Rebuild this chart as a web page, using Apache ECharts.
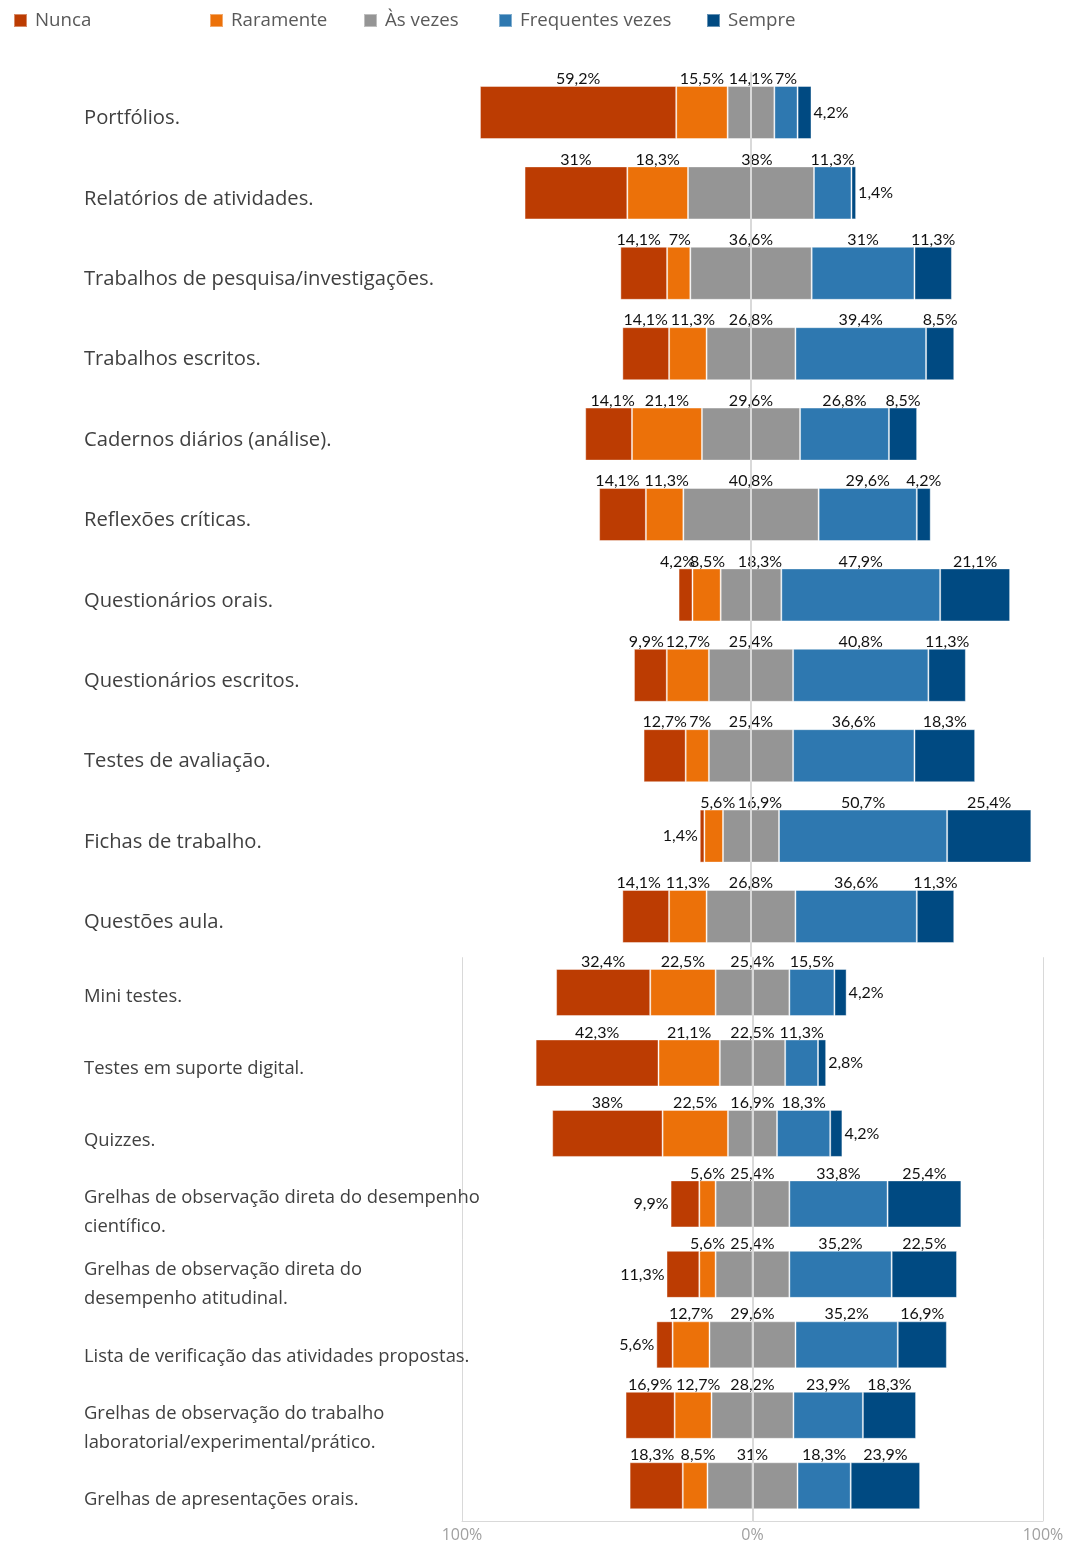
<!DOCTYPE html>
<html>
<head>
<meta charset="utf-8">
<script src="https://cdn.jsdelivr.net/npm/echarts@6/dist/echarts.min.js"></script>
<style>
  html, body { margin: 0; padding: 0; background: #ffffff; }
  #chart { width: 1080px; height: 1543px; }
</style>
</head>
<body>
<div id="chart"></div>
<script>
// Response levels and their colours
const levels = ['Nunca', 'Raramente', 'Às vezes', 'Frequentes vezes', 'Sempre'];
const levelColors = ['#BC3C02', '#EC7109', '#959595', '#2E78B0', '#004A82'];

// Block A: assessment instruments (percent of answers)
const catsA = [
  'Portfólios.',
  'Relatórios de atividades.',
  'Trabalhos de pesquisa/investigações.',
  'Trabalhos escritos.',
  'Cadernos diários (análise).',
  'Reflexões críticas.',
  'Questionários orais.',
  'Questionários escritos.',
  'Testes de avaliação.',
  'Fichas de trabalho.',
  'Questões aula.'
];
const nuncaA     = [59.2, 31,   14.1, 14.1, 14.1, 14.1, 4.2,  9.9,  12.7, 1.4,  14.1];
const raramenteA = [15.5, 18.3, 7,    11.3, 21.1, 11.3, 8.5,  12.7, 7,    5.6,  11.3];
const asVezesA   = [14.1, 38,   36.6, 26.8, 29.6, 40.8, 18.3, 25.4, 25.4, 16.9, 26.8];
const frequentesA= [7,    11.3, 31,   39.4, 26.8, 29.6, 47.9, 40.8, 36.6, 50.7, 36.6];
const sempreA    = [4.2,  1.4,  11.3, 8.5,  8.5,  4.2,  21.1, 11.3, 18.3, 25.4, 11.3];

// Block B: further instruments (percent of answers)
const catsB = [
  'Mini testes.',
  'Testes em suporte digital.',
  'Quizzes.',
  'Grelhas de observação direta do desempenho\ncientífico.',
  'Grelhas de observação direta do\ndesempenho atitudinal.',
  'Lista de verificação das atividades propostas.',
  'Grelhas de observação do trabalho\nlaboratorial/experimental/prático.',
  'Grelhas de apresentações orais.'
];
const nuncaB     = [32.4, 42.3, 38,   9.9,  11.3, 5.6,  16.9, 18.3];
const raramenteB = [22.5, 21.1, 22.5, 5.6,  5.6,  12.7, 12.7, 8.5];
const asVezesB   = [25.4, 22.5, 16.9, 25.4, 25.4, 29.6, 28.2, 31];
const frequentesB= [15.5, 11.3, 18.3, 33.8, 35.2, 35.2, 23.9, 18.3];
const sempreB    = [4.2,  2.8,  4.2,  25.4, 22.5, 16.9, 18.3, 23.9];

// Bottom axis ticks
const axisTicks = [-100, 0, 100];
const axisTickLabels = ['100%', '0%', '100%'];

// Small segments whose value label sits beside the bar instead of above it
const sideLabels = {
  'Portfólios.': { 4: 'right' },
  'Relatórios de atividades.': { 4: 'right' },
  'Fichas de trabalho.': { 0: 'left' },
  'Mini testes.': { 4: 'right' },
  'Testes em suporte digital.': { 4: 'right' },
  'Quizzes.': { 4: 'right' },
  'Grelhas de observação direta do desempenho\ncientífico.': { 0: 'left' },
  'Grelhas de observação direta do\ndesempenho atitudinal.': { 0: 'left' },
  'Lista de verificação das atividades propostas.': { 0: 'left' }
};

// Horizontal nudges (px) that keep neighbouring value labels apart
const labelNudge = {
  'Relatórios de atividades.': { 2: 6 },
  'Trabalhos de pesquisa/investigações.': { 0: -5, 1: 1 },
  'Trabalhos escritos.': { 1: 5 },
  'Cadernos diários (análise).': { 0: 4 },
  'Reflexões críticas.': { 0: -5, 1: 2 },
  'Questionários orais.': { 0: -8, 1: 1, 2: 9 },
  'Questionários escritos.': { 0: -4 },
  'Testes de avaliação.': { 1: 3 },
  'Fichas de trabalho.': { 1: 4, 2: 9 },
  'Questões aula.': { 0: -7 },
  'Grelhas de observação do trabalho\nlaboratorial/experimental/prático.': { 1: 5 },
  'Grelhas de apresentações orais.': { 0: -4, 1: 3 }
};

const legendLeft = [13, 209, 363, 498, 706];

const fmt = v => String(v).replace('.', ',') + '%';

const labelFont = { fontFamily: 'Lato', fontSize: 16, color: '#111111' };

function buildSeries(gridIndex, cats, vals) {
  const stack = 'div' + gridIndex;
  const common = {
    type: 'bar',
    stack: stack,
    xAxisIndex: gridIndex,
    yAxisIndex: gridIndex,
    barWidth: gridIndex === 0 ? 53 : 47,
    animation: false,
    itemStyle: { borderColor: 'rgba(255,255,255,0.4)', borderWidth: 1 }
  };
  // stacking order: neutral half first so each stack grows outwards from 0
  const order = [
    { lvl: 2, sign: -1, half: true, label: false },
    { lvl: 1, sign: -1 },
    { lvl: 0, sign: -1 },
    { lvl: 2, sign: 1, half: true, label: true, centre: true },
    { lvl: 3, sign: 1 },
    { lvl: 4, sign: 1 }
  ];
  return order.map((o, k) => {
    const raw = vals[o.lvl];
    const data = raw.map((v, i) => {
      const item = { value: o.sign * (o.half ? v / 2 : v) };
      if (o.label === false) return item;
      const side = sideLabels[cats[i]] && sideLabels[cats[i]][o.lvl];
      const dx = labelNudge[cats[i]] && labelNudge[cats[i]][o.lvl];
      if (side) {
        item.label = { position: side, distance: 2 };
      } else if (dx) {
        item.label = { offset: [dx, 0] };
      }
      return item;
    });
    const s = Object.assign({}, common, {
      name: levels[o.lvl],
      data: data,
      itemStyle: Object.assign({}, common.itemStyle, { color: levelColors[o.lvl] }),
      label: o.label === false ? { show: false } : Object.assign({
        show: true,
        position: o.centre ? [0, 1] : 'top',
        align: o.centre ? 'center' : undefined,
        verticalAlign: o.centre ? 'bottom' : undefined,
        distance: -1,
        formatter: p => fmt(raw[p.dataIndex])
      }, labelFont)
    });
    if (k === order.length - 1) {
      s.markLine = {
        silent: true,
        symbol: 'none',
        animation: false,
        label: { show: false },
        lineStyle: { color: '#d9d9d9', width: 2, type: 'solid' },
        data: [{ xAxis: 0 }]
      };
    }
    return s;
  });
}

const chart = echarts.init(document.getElementById('chart'), null, { renderer: 'canvas' });

const option = {
  backgroundColor: '#ffffff',
  animation: false,
  legend: levels.map((name, i) => ({
    data: [name],
    left: legendLeft[i],
    top: 11,
    padding: 0,
    icon: 'rect',
    itemWidth: 13,
    itemHeight: 13,
    selectedMode: false,
    textStyle: { fontFamily: 'Open Sans', fontSize: 18.7, color: '#595959', padding: [0, 0, 0, 3] }
  })),
  grid: [
    { left: 452.6, right: 30.6, top: 72.3, height: 884.4 },
    { left: 462, right: 37, top: 957.25, height: 564 },
    { left: 452.6, right: 30.6, top: 78.3, height: 884.4 },
    { left: 462, right: 37, top: 961.1, height: 574.9 }
  ],
  xAxis: [
    { gridIndex: 0, type: 'value', min: -90, max: 90, show: false },
    {
      gridIndex: 1, type: 'value', min: -100, max: 100, interval: 100,
      axisLine: { show: true, lineStyle: { color: '#d9d9d9', width: 1 } },
      axisTick: { show: false },
      splitLine: { show: true, lineStyle: { color: '#d9d9d9', width: 1 } },
      axisLabel: {
        margin: 6,
        fontFamily: 'Open Sans', fontSize: 16, color: '#a0a0a0',
        formatter: v => axisTickLabels[axisTicks.indexOf(v)]
      }
    },
    { gridIndex: 2, type: 'value', min: -90, max: 90, show: false },
    { gridIndex: 3, type: 'value', min: -100, max: 100, show: false }
  ],
  yAxis: [
    {
      gridIndex: 0, type: 'category', data: catsA, inverse: true,
      axisLine: { show: false }, axisTick: { show: false }, axisLabel: { show: false }
    },
    {
      gridIndex: 1, type: 'category', data: catsB, inverse: true,
      axisLine: { show: false }, axisTick: { show: false }, axisLabel: { show: false }
    },
    {
      gridIndex: 2, type: 'category', data: catsA, inverse: true,
      axisLine: { show: false }, axisTick: { show: false },
      axisLabel: {
        align: 'left', margin: 368.6,
        fontFamily: 'Open Sans', fontSize: 20.2, color: '#404040'
      }
    },
    {
      gridIndex: 3, type: 'category', data: catsB, inverse: true,
      axisLine: { show: false }, axisTick: { show: false },
      axisLabel: {
        align: 'left', margin: 378, lineHeight: 29,
        fontFamily: 'Open Sans', fontSize: 18.4, color: '#404040'
      }
    }
  ],
  series: [
    ...buildSeries(0, catsA, [nuncaA, raramenteA, asVezesA, frequentesA, sempreA]),
    ...buildSeries(1, catsB, [nuncaB, raramenteB, asVezesB, frequentesB, sempreB])
  ]
};

chart.setOption(option);
</script>
</body>
</html>
